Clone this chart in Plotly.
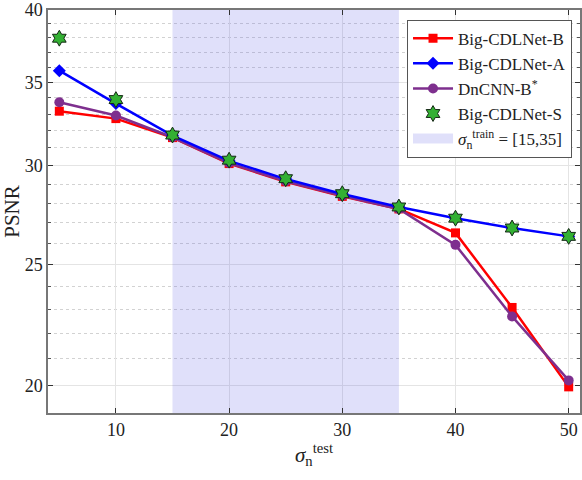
import plotly.graph_objects as go

# noise level (sigma test) and PSNR per model
sigma = [5, 10, 15, 20, 25, 30, 35, 40, 45, 50]
cdl_b = [33.18, 32.73, 31.60, 30.12, 29.12, 28.35, 27.70, 26.50, 23.09, 19.94]
cdl_a = [35.76, 33.65, 31.72, 30.27, 29.27, 28.47, 27.80, 27.23, 26.74, 26.33]
dncnn_b = [33.73, 32.92, 31.62, 30.15, 29.15, 28.38, 27.70, 25.92, 22.71, 20.18]
cdl_s = [37.97, 33.90, 31.75, 30.31, 29.29, 28.49, 27.80, 27.23, 26.74, 26.33]

train_range = [15, 35]
y_lo, y_hi = 19, 40
x_ticks = [10, 20, 30, 40, 50]
y_ticks = [20, 25, 30, 35, 40]
y_minor = [21, 22, 23, 24, 26, 27, 28, 29, 31, 32, 33, 34, 36, 37, 38, 39]

font = "Liberation Serif"
shade = "rgba(100,100,230,0.2)"
fig = go.Figure()

# training range shading
fig.add_trace(go.Scatter(
    x=[train_range[0], train_range[1], train_range[1], train_range[0], train_range[0]],
    y=[y_lo, y_lo, y_hi, y_hi, y_lo],
    fill="toself", fillcolor=shade, mode="none",
    showlegend=False, hoverinfo="skip"))
# legend patch for the shading
fig.add_trace(go.Scatter(x=[None], y=[None], mode="lines",
                         line=dict(color=shade, width=12),
                         name="<i>σ</i><sub>n</sub><sup>train</sup> = [15,35]", legendrank=5))

fig.add_trace(go.Scatter(x=sigma, y=cdl_b, name="Big-CDLNet-B", mode="lines+markers",
                         line=dict(color="#ff0000", width=2.5),
                         marker=dict(symbol="square", size=9, color="#ff0000"),
                         legendrank=1))
fig.add_trace(go.Scatter(x=sigma, y=dncnn_b, name="DnCNN-B<sup>*</sup>", mode="lines+markers",
                         line=dict(color="#7e2f8e", width=2.5),
                         marker=dict(symbol="circle", size=10, color="#7e2f8e"),
                         legendrank=3))
fig.add_trace(go.Scatter(x=sigma, y=cdl_a, name="Big-CDLNet-A", mode="lines+markers",
                         line=dict(color="#0000ff", width=2.5),
                         marker=dict(symbol="diamond", size=10, color="#0000ff"),
                         legendrank=2))
fig.add_trace(go.Scatter(x=sigma, y=cdl_s, name="Big-CDLNet-S", mode="markers",
                         marker=dict(symbol="hexagram", size=12, color="#33b033",
                                     line=dict(color="#142814", width=1)),
                         legendrank=4))

fig.update_layout(
    width=582, height=480,
    margin=dict(l=48, r=2, t=10, b=67),
    plot_bgcolor="white", paper_bgcolor="white",
    font=dict(family=font, size=17, color="#222222"),
    showlegend=True,
    legend=dict(x=0.985, y=0.976, xanchor="right", yanchor="top",
                bgcolor="white", bordercolor="#555555", borderwidth=1,
                font=dict(size=17), tracegroupgap=0, itemwidth=40),
)

fig.update_xaxes(
    range=[4, 51], tickvals=x_ticks, ticks="inside", ticklen=5,
    tickcolor="#333333", showline=True, linecolor="#777777", linewidth=1.5,
    mirror="allticks", showgrid=True, gridcolor="#e4e4e4", zeroline=False,
    tickfont=dict(size=18), automargin=False,
    title=dict(text="<i>σ</i><sub>n</sub><sup>test</sup>", font=dict(size=21), standoff=8))

fig.update_yaxes(
    type="log", range=[1.27875, 1.60207], tickvals=y_ticks, ticktext=[str(v) for v in y_ticks],
    ticks="inside", ticklen=5, tickcolor="#333333", ticklabeloverflow="allow",
    showline=True, linecolor="#777777", linewidth=1.5, mirror="allticks",
    showgrid=True, gridcolor="#e4e4e4", zeroline=False,
    tickfont=dict(size=18), automargin=False,
    minor=dict(tickmode="array", tickvals=y_minor, ticks="inside", ticklen=3,
               tickcolor="#555555", showgrid=True, gridcolor="#d2d2d2", griddash="dot"),
    title=dict(text="PSNR", font=dict(size=21), standoff=6))

# drop the default page margin so the figure sits at the window corner
fig.write_html("out.html", config={"displayModeBar": False},
               post_script="document.body.style.margin='0';")
